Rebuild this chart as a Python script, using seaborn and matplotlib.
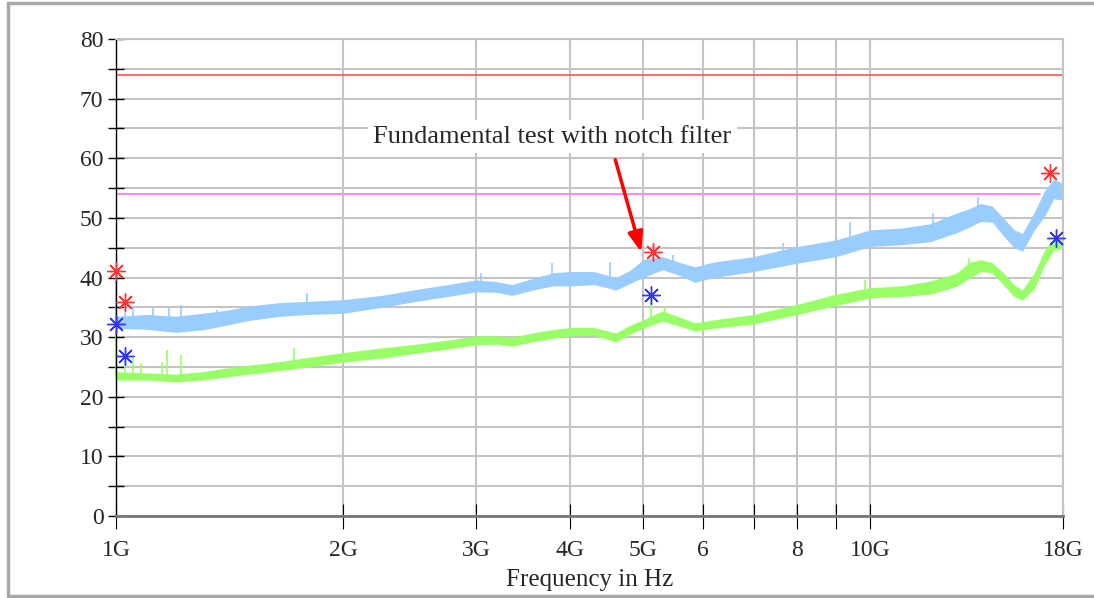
import numpy as np
import pandas as pd
import matplotlib
matplotlib.use("Agg")
import matplotlib.pyplot as plt
from matplotlib.lines import Line2D
import seaborn as sns

# Frequency grid (GHz) with the envelope of the noisy traces
freq = [1.00, 1.10, 1.20, 1.30, 1.40, 1.50, 1.65, 1.80, 2.00, 2.25, 2.50, 2.75,
        3.00, 3.20, 3.35, 3.60, 3.80, 4.00, 4.30, 4.60, 4.80, 5.00, 5.30, 5.60,
        5.85, 6.20, 7.00, 8.00, 9.00, 10.0, 11.0, 12.0, 13.0, 13.5, 14.0, 14.5,
        15.0, 15.5, 15.9, 16.5, 17.0, 17.5, 18.0]

# Peak detector (light blue)
peak_low = [31.5, 31.3, 30.8, 31.2, 32.0, 32.8, 33.5, 33.8, 34.0, 35.0, 36.0, 36.8,
            37.6, 37.5, 37.0, 38.0, 38.6, 38.6, 38.8, 37.9, 39.0, 40.0, 41.3, 40.3,
            39.2, 40.0, 41.0, 42.4, 43.5, 45.2, 45.5, 46.0, 47.5, 48.4, 49.4, 49.3,
            47.0, 45.0, 44.4, 48.0, 50.2, 53.2, 53.0]
peak_high = [33.5, 33.8, 33.5, 34.0, 34.5, 35.2, 35.8, 36.0, 36.3, 37.0, 38.0, 38.8,
             39.6, 39.3, 38.8, 40.0, 40.8, 41.0, 41.0, 40.0, 41.2, 43.0, 43.5, 42.5,
             41.8, 42.6, 43.5, 45.2, 46.3, 48.0, 48.3, 49.0, 50.8, 51.5, 52.4, 52.0,
             50.0, 48.0, 47.4, 51.0, 54.5, 56.5, 55.8]

# Average detector (light green)
avg_low = [22.8, 22.8, 22.5, 22.8, 23.3, 23.8, 24.4, 25.0, 25.8, 26.5, 27.3, 28.0,
           28.7, 28.8, 28.5, 29.3, 29.8, 30.2, 30.3, 29.2, 30.5, 31.5, 32.7, 31.8,
           31.0, 31.5, 32.2, 33.8, 35.3, 36.6, 36.8, 37.2, 38.5, 39.8, 41.0, 40.8,
           38.8, 36.8, 36.2, 38.2, 42.0, 44.6, 44.8]
avg_high = [24.2, 24.0, 23.8, 24.2, 24.8, 25.3, 25.9, 26.6, 27.4, 28.2, 28.8, 29.5,
            30.2, 30.2, 30.0, 30.8, 31.3, 31.6, 31.6, 30.7, 32.0, 32.9, 34.4, 33.3,
            32.4, 32.9, 33.8, 35.5, 37.2, 38.3, 38.6, 39.4, 40.7, 42.5, 43.0, 42.5,
            40.8, 38.8, 37.9, 40.8, 44.5, 46.6, 46.2]

# Single spikes sticking out of the traces: frequency, bottom, top
peak_spike_f = [1.00, 1.028, 1.053, 1.12, 1.175, 1.22, 1.36, 1.79, 3.05, 3.78,
                4.52, 5.15, 5.47, 7.65, 9.4, 12.1, 13.9]
peak_spike_lo = [32.0, 33.0, 33.0, 32.5, 32.5, 32.5, 32.5, 35.0, 38.5, 39.5,
                 39.0, 42.0, 42.0, 43.5, 46.0, 47.0, 50.0]
peak_spike_hi = [41.0, 35.9, 35.0, 34.9, 35.0, 35.4, 34.5, 37.4, 40.7, 42.4,
                 42.6, 44.3, 43.8, 45.8, 49.3, 50.8, 53.5]

avg_spike_f = [1.00, 1.028, 1.053, 1.08, 1.15, 1.17, 1.22, 1.72, 5.12, 5.35,
               9.85, 13.5]
avg_spike_lo = [23.0, 23.5, 23.5, 23.5, 23.0, 23.0, 23.0, 25.5, 33.0, 33.5,
                37.5, 41.0]
avg_spike_hi = [31.0, 26.5, 26.5, 25.7, 25.8, 27.8, 27.0, 28.2, 37.1, 35.0,
                39.6, 43.3]

# Final measurement markers
peak_mark_f = [1.00, 1.028, 5.15, 17.3]
peak_mark_v = [41.1, 35.9, 44.3, 57.6]
avg_mark_f = [1.00, 1.028, 5.12, 17.6]
avg_mark_v = [32.2, 26.8, 37.1, 46.6]

# Limit lines
peak_limit = 74
avg_limit = 54

xtick_vals = [1, 2, 3, 4, 5, 6, 8, 10, 18]
xtick_labels = ["1G", "2G", "3G", "4G", "5G", "6", "8", "10G", "18G"]

sns.set_style("white")
plt.rcParams["font.family"] = ["Liberation Serif", "DejaVu Serif"]

fig = plt.figure(figsize=(10.94, 5.98), dpi=100)
ax = fig.add_axes([116 / 1094, 1 - 516 / 598, (1063 - 116) / 1094, (516 - 39) / 598])
ax.set_xscale("log")

grid_col = "#c4c4c4"
ax.set_xlim(1, 18)
ax.set_ylim(0, 80)
ax.set_xticks(xtick_vals)
ax.set_xticklabels(xtick_labels)
ax.set_xticks([7, 9], minor=True)
ax.set_yticks(range(0, 81, 10))
ax.set_yticks(range(5, 80, 10), minor=True)
ax.grid(True, which="both", color=grid_col, linewidth=1.5, zorder=0)
ax.set_axisbelow(True)


def band(low, high, color):
    df = pd.DataFrame({"freq": freq * 2, "level": low + high})
    sns.lineplot(data=df, x="freq", y="level", ax=ax, color=color,
                 estimator="mean", errorbar=lambda v: (v.min(), v.max()),
                 linewidth=0.8, err_kws={"alpha": 1, "linewidth": 0})


blue = "#99ccff"
green = "#99ff66"
band(peak_low, peak_high, blue)
band(avg_low, avg_high, green)
ax.vlines(peak_spike_f, peak_spike_lo, peak_spike_hi, color=blue, linewidth=1.2,
          clip_on=False)
ax.vlines(avg_spike_f, avg_spike_lo, avg_spike_hi, color=green, linewidth=1.2,
          clip_on=False)

# limit lines
ax.plot([1, 18], [peak_limit, peak_limit], color="#ff5555", linewidth=1.2)
ax.plot([1, 16.8], [avg_limit, avg_limit], color="#f090f0", linewidth=1.5)

star = (8, 2, 0)
ax.plot(peak_mark_f, peak_mark_v, linestyle="none", marker=star, markersize=13,
        markeredgecolor="#ff3333", markeredgewidth=1, zorder=5, clip_on=False)
ax.plot(avg_mark_f, avg_mark_v, linestyle="none", marker=star, markersize=13,
        markeredgecolor="#3333ff", markeredgewidth=1, zorder=5, clip_on=False)

# annotation
ax.text(3.79, 63.6, "Fundamental test with notch filter", fontsize=19,
        ha="center", va="center", zorder=6,
        bbox=dict(facecolor="white", edgecolor="none", pad=4))
ax.annotate("", xy=(4.98, 43.8), xytext=(4.58, 60.2),
            arrowprops=dict(arrowstyle="-|>,head_width=0.45,head_length=1.2",
                            color="#ff0000", linewidth=2.5), zorder=6)

# spines and ticks
for side in ["top", "right"]:
    ax.spines[side].set_color(grid_col)
    ax.spines[side].set_linewidth(1.5)
ax.spines["left"].set_color("black")
ax.spines["left"].set_linewidth(1)
ax.spines["bottom"].set_color("#777777")
ax.spines["bottom"].set_linewidth(2)

ax.tick_params(axis="y", which="both", direction="inout", length=12, width=1,
               color="black", labelsize=17, pad=3, left=True)
ax.tick_params(axis="x", which="both", direction="inout", length=18, width=0.8,
               color="black", labelsize=17, pad=8, bottom=True)
ax.set_xlabel("Frequency in Hz", fontsize=18, labelpad=6)
ax.set_ylabel("")

# outer frame
for xs, ys in [([8 / 1094, 8 / 1094], [1 - 3 / 598, 1 - 596 / 598]),
               ([8 / 1094, 1], [1 - 3 / 598, 1 - 3 / 598]),
               ([8 / 1094, 1], [1 - 596 / 598, 1 - 596 / 598])]:
    fig.add_artist(Line2D(xs, ys, color="#a8a8a8", linewidth=2.5))

fig.savefig("out.png", dpi=100)
